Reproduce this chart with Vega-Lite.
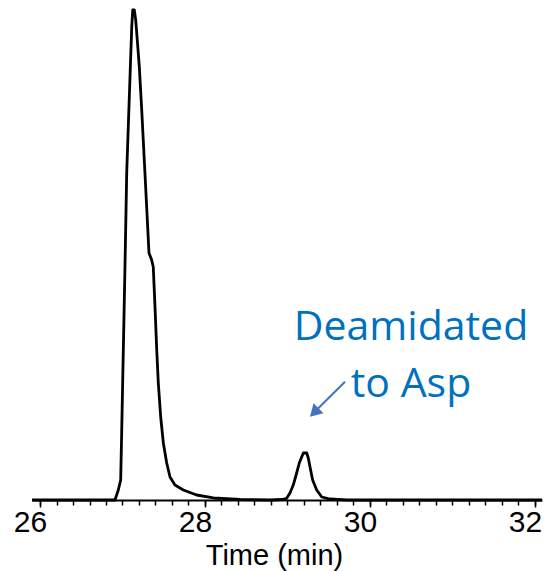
{
  "$schema": "https://vega.github.io/schema/vega-lite/v6.json",
  "width": 510,
  "height": 490,
  "autosize": "none",
  "padding": {"left": 32, "top": 10, "right": 3, "bottom": 71},
  "background": "white",
  "config": {"view": {"stroke": null}},
  "datasets": {
    "trace": [
      {"t": 25.903, "v": 0}, {"t": 26.5, "v": 0}, {"t": 26.909, "v": 0},
      {"t": 26.949, "v": 2.04}, {"t": 26.978, "v": 4.08}, {"t": 26.99, "v": 13.67},
      {"t": 27.002, "v": 23.88}, {"t": 27.018, "v": 37.35}, {"t": 27.03, "v": 47.55},
      {"t": 27.051, "v": 66.73}, {"t": 27.07, "v": 76.12}, {"t": 27.091, "v": 86.33},
      {"t": 27.112, "v": 96.53}, {"t": 27.124, "v": 100}, {"t": 27.143, "v": 100},
      {"t": 27.16, "v": 97.96}, {"t": 27.179, "v": 93.88}, {"t": 27.204, "v": 88.37},
      {"t": 27.233, "v": 79.59}, {"t": 27.264, "v": 69.39}, {"t": 27.293, "v": 59.8},
      {"t": 27.321, "v": 50.41}, {"t": 27.354, "v": 48.98}, {"t": 27.373, "v": 47.55},
      {"t": 27.394, "v": 39.39}, {"t": 27.415, "v": 30.61}, {"t": 27.434, "v": 23.88},
      {"t": 27.463, "v": 16.94}, {"t": 27.495, "v": 11.63}, {"t": 27.536, "v": 7.55},
      {"t": 27.576, "v": 4.69}, {"t": 27.636, "v": 3.06}, {"t": 27.737, "v": 2.04},
      {"t": 27.899, "v": 1.02}, {"t": 28.101, "v": 0.41}, {"t": 28.424, "v": 0.1},
      {"t": 28.788, "v": 0}, {"t": 28.933, "v": 0.1}, {"t": 28.99, "v": 0.34},
      {"t": 29.03, "v": 1.43}, {"t": 29.07, "v": 3.06}, {"t": 29.111, "v": 5.51},
      {"t": 29.143, "v": 7.55}, {"t": 29.172, "v": 8.78}, {"t": 29.192, "v": 9.59},
      {"t": 29.233, "v": 9.59}, {"t": 29.252, "v": 8.57}, {"t": 29.273, "v": 6.73},
      {"t": 29.305, "v": 4.08}, {"t": 29.354, "v": 2.04}, {"t": 29.415, "v": 0.61},
      {"t": 29.515, "v": 0.2}, {"t": 29.718, "v": 0}, {"t": 31, "v": 0},
      {"t": 32.085, "v": 0}
    ],
    "arrow": [
      {"t0": 29.697, "v0": 24.14, "t1": 29.33, "v1": 18.0, "th": 29.324, "vh": 17.86}
    ],
    "note": [
      {"label": "Deamidated", "t": 30.497, "v": 32.65},
      {"label": "to Asp", "t": 30.497, "v": 21.02}
    ]
  },
  "resolve": {"axis": {"x": "independent"}},
  "layer": [
    {
      "data": {"name": "trace"},
      "mark": {"type": "line", "color": "black", "strokeWidth": 2.8, "strokeJoin": "round"},
      "encoding": {
        "x": {
          "field": "t", "type": "quantitative",
          "scale": {"domain": [25.903, 32.085], "nice": false, "zero": false},
          "axis": {
            "orient": "bottom",
            "values": [26, 26.2, 26.4, 26.6, 26.8, 27, 27.2, 27.4, 27.6, 27.8, 28, 28.2, 28.4, 28.6, 28.8, 29, 29.2, 29.4, 29.6, 29.8, 30, 30.2, 30.4, 30.6, 30.8, 31, 31.2, 31.4, 31.6, 31.8, 32],
            "labels": false,
            "title": null,
            "grid": false,
            "domainColor": "black",
            "domainWidth": 2,
            "tickColor": "black",
            "tickWidth": 1.5,
            "tickSize": 5
          }
        },
        "y": {
          "field": "v", "type": "quantitative",
          "scale": {"domain": [0, 100], "nice": false, "zero": false},
          "axis": null
        }
      }
    },
    {
      "data": {"name": "arrow"},
      "mark": {"type": "rule", "color": "#4472C4", "strokeWidth": 2},
      "encoding": {
        "x": {"field": "t0", "type": "quantitative", "axis": null},
        "y": {"field": "v0", "type": "quantitative"},
        "x2": {"field": "t1"},
        "y2": {"field": "v1"}
      }
    },
    {
      "data": {"name": "arrow"},
      "mark": {"type": "point", "shape": "triangle-up", "filled": true, "color": "#4472C4", "size": 196, "angle": 225, "opacity": 1},
      "encoding": {
        "x": {"field": "th", "type": "quantitative", "axis": null},
        "y": {"field": "vh", "type": "quantitative"}
      }
    },
    {
      "data": {"name": "note"},
      "mark": {"type": "text", "font": "Open Sans", "fontSize": 41, "color": "#0070C0", "align": "center", "baseline": "alphabetic"},
      "encoding": {
        "x": {
          "field": "t", "type": "quantitative",
          "axis": {
            "orient": "bottom",
            "values": [26, 28, 30, 32],
            "format": "d",
            "title": "Time (min)",
            "grid": false,
            "domain": false,
            "tickColor": "black",
            "tickWidth": 1.5,
            "tickSize": 7,
            "labelFont": "Liberation Sans",
            "labelFontSize": 30,
            "labelColor": "black",
            "labelPadding": 0,
            "labelOffset": -10,
            "labelOverlap": false,
            "labelBound": false,
            "labelFlush": false,
            "titleFont": "Liberation Sans",
            "titleFontSize": 29,
            "titleFontWeight": "normal",
            "titleColor": "black",
            "titleX": 242,
            "titleY": 64,
            "titleAlign": "center",
            "titleBaseline": "alphabetic"
          }
        },
        "y": {"field": "v", "type": "quantitative"},
        "text": {"field": "label"}
      }
    }
  ]
}
